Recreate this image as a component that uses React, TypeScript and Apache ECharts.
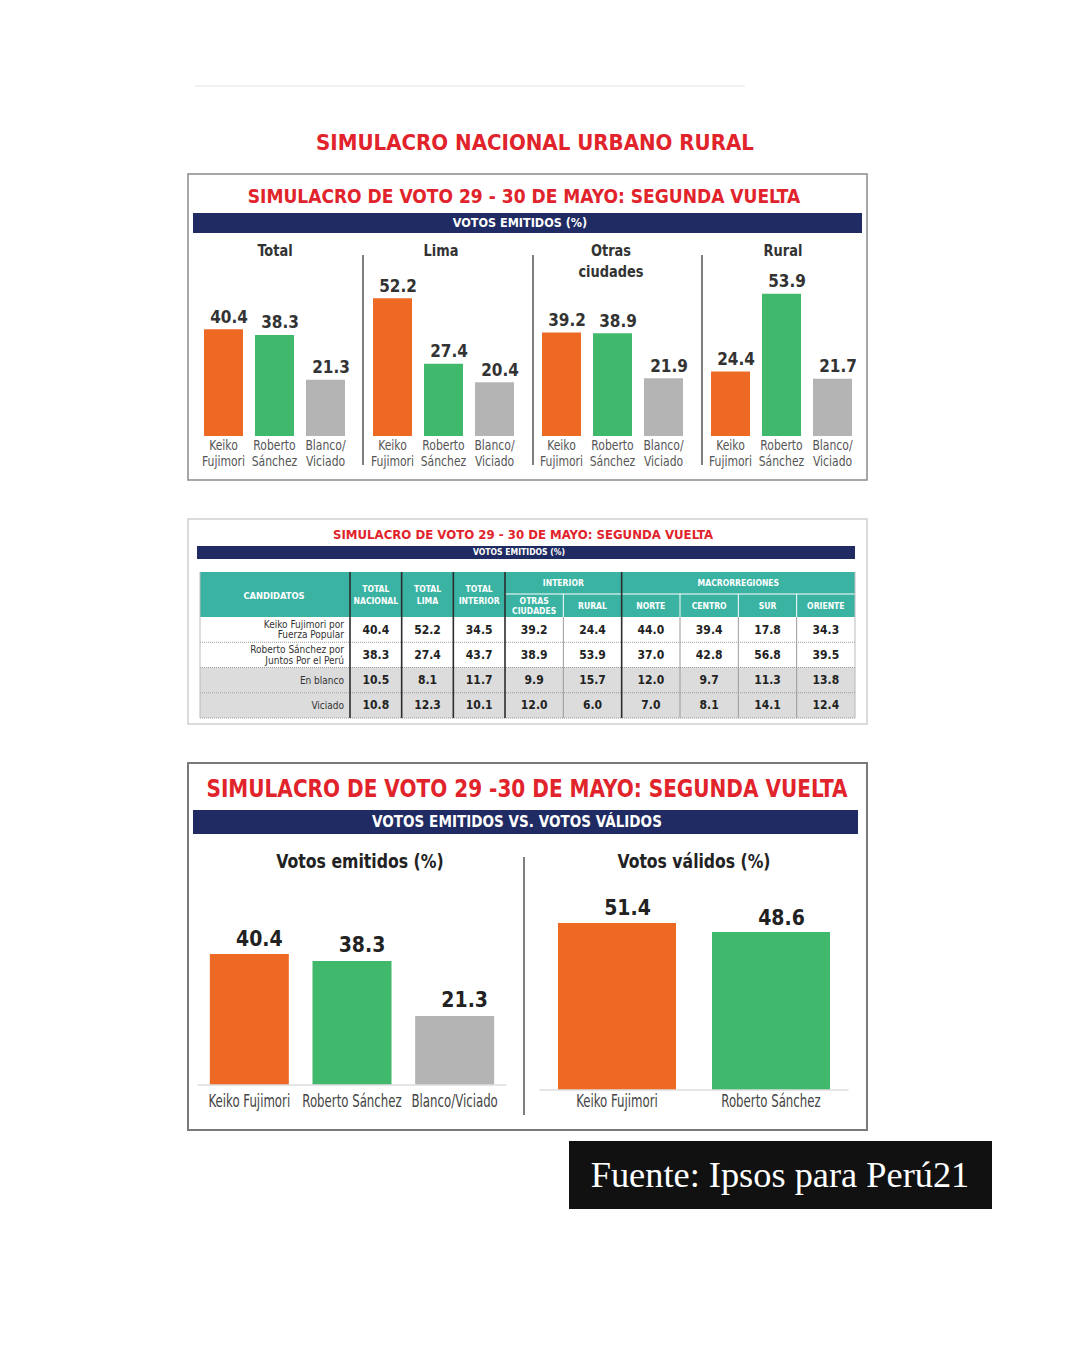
import React, { useEffect, useRef } from 'react';
import * as echarts from 'echarts';

// ---------- DATA ----------
const groupTitles = ['Total', 'Lima', 'Otras\nciudades', 'Rural'];
const candidateLabels = ['Keiko\nFujimori', 'Roberto\nSánchez', 'Blanco/\nViciado'];
const keikoByGroup = [40.4, 52.2, 39.2, 24.4];
const sanchezByGroup = [38.3, 27.4, 38.9, 53.9];
const blancoViciadoByGroup = [21.3, 20.4, 21.9, 21.7];

const tableColumnsA = ['TOTAL\nNACIONAL', 'TOTAL\nLIMA', 'TOTAL\nINTERIOR'];
const tableColumnsB = ['OTRAS\nCIUDADES', 'RURAL', 'NORTE', 'CENTRO', 'SUR', 'ORIENTE'];
const tableRowNames = ['Keiko Fujimori por\nFuerza Popular', 'Roberto Sánchez por\nJuntos Por el Perú', 'En blanco', 'Viciado'];
const tableKeiko = [40.4, 52.2, 34.5, 39.2, 24.4, 44.0, 39.4, 17.8, 34.3];
const tableSanchez = [38.3, 27.4, 43.7, 38.9, 53.9, 37.0, 42.8, 56.8, 39.5];
const tableBlanco = [10.5, 8.1, 11.7, 9.9, 15.7, 12.0, 9.7, 11.3, 13.8];
const tableViciado = [10.8, 12.3, 10.1, 12.0, 6.0, 7.0, 8.1, 14.1, 12.4];

const emitidosCategories = ['Keiko Fujimori', 'Roberto Sánchez', 'Blanco/Viciado'];
const emitidosValues = [40.4, 38.3, 21.3];
const validosCategories = ['Keiko Fujimori', 'Roberto Sánchez'];
const validosValues = [51.4, 48.6];

// ---------- STYLE ----------
const ORANGE = '#ee6a24';
const GREEN = '#40b96d';
const GRAY = '#b4b4b4';
const NAVY = '#1f2b62';
const RED = '#e1232b';
const TEAL = '#3ab3a3';
const COND = "'DejaVu Sans Condensed', 'Liberation Sans Narrow', sans-serif";
const BAR_COLORS = [ORANGE, GREEN, GRAY];

function txt(text: string, x: number, y: number, size: number, color: string, o: any = {}) {
  return {
    type: 'text',
    x,
    y,
    scaleX: o.sx || 1,
    z: o.z || 60,
    style: {
      text,
      fill: color,
      font: `${o.weight || 'bold'} ${size}px ${o.family || COND}`,
      textAlign: o.align || 'center',
      align: o.align || 'center',
      textVerticalAlign: 'middle',
      verticalAlign: 'middle',
      lineHeight: o.lh || size * 1.2,
    },
  };
}
function rect(x: number, y: number, w: number, h: number, fill: string, o: any = {}) {
  return {
    type: 'rect',
    z: o.z ?? 0,
    shape: { x, y, width: w, height: h },
    style: { fill, stroke: o.stroke || null, lineWidth: o.lw || 0 },
  };
}
function line(x1: number, y1: number, x2: number, y2: number, color: string, w: number, o: any = {}) {
  return {
    type: 'line',
    z: o.z ?? 70,
    shape: { x1, y1, x2, y2 },
    style: { stroke: color, lineWidth: w, lineDash: o.dash || null },
  };
}

export default function App() {
  const ref = useRef<HTMLDivElement>(null);
  useEffect(() => {
    if (!ref.current) return;
    const chart = echarts.init(ref.current, null, { renderer: 'svg' });

    const grids: any[] = [];
    const xAxes: any[] = [];
    const yAxes: any[] = [];
    const series: any[] = [];
    const graphic: any[] = [];
    const heatIdx: number[] = [];
    const catLabelJobs: { axis: number; cats: string[]; y: number; size: number; sx: number; color: string; lh: number }[] = [];

    graphic.push(line(195, 86, 745, 86, '#f2f2f2', 2, { z: 1 }));
    graphic.push(txt('SIMULACRO NACIONAL URBANO RURAL', 535, 143, 21, RED, { sx: 1.05 }));

    // ---------- PANEL 1 ----------
    graphic.push(rect(188, 174, 679, 306, '#fff', { stroke: '#8a8a8a', lw: 1.5, z: 1 }));
    graphic.push(txt('SIMULACRO DE VOTO 29 - 30 DE MAYO: SEGUNDA VUELTA', 524, 196, 19, RED, { sx: 1.0 }));
    graphic.push(rect(193, 213, 669, 20, NAVY, { z: 2 }));
    graphic.push(txt('VOTOS EMITIDOS (%)', 520, 223.5, 12, '#fff', { sx: 1.04 }));
    const groupLefts = [198, 367, 536, 705];
    const groupTitleX = [275, 441, 611, 783];
    [363, 533, 702].forEach((x) => graphic.push(line(x, 255, x, 465, '#555', 1.5)));
    groupTitles.forEach((t, i) => {
      const twoLines = t.includes('\n');
      graphic.push(txt(t, groupTitleX[i], twoLines ? 261.5 : 251, 16, '#333', { lh: 21, sx: 0.9 }));
      grids.push({ left: groupLefts[i], width: 153, top: 436 - 158.4, height: 158.4 });
      xAxes.push({
        type: 'category', gridIndex: i, data: candidateLabels,
        axisLine: { show: false }, axisTick: { show: false }, axisLabel: { show: false },
      });
      catLabelJobs.push({ axis: i, cats: candidateLabels, y: 453, size: 14, sx: 0.86, color: '#555', lh: 16 });
      yAxes.push({ type: 'value', gridIndex: i, min: 0, max: 60, show: false, splitLine: { show: false } });
      const vals = [keikoByGroup[i], sanchezByGroup[i], blancoViciadoByGroup[i]];
      series.push({
        type: 'bar', xAxisIndex: i, yAxisIndex: i, barWidth: 39,
        data: vals.map((v, k) => ({ value: v, itemStyle: { color: BAR_COLORS[k] } })),
        label: {
          show: true, position: 'top', distance: 4, offset: [5.5, 0],
          fontFamily: COND, fontWeight: 'bold', fontSize: 17, color: '#333',
          formatter: (p: any) => p.value.toFixed(1),
        },
      });
    });

    // ---------- PANEL 2 (table) ----------
    graphic.push(rect(188, 519, 679, 205, '#fff', { stroke: '#cfcfcf', lw: 1.5, z: 1 }));
    graphic.push(txt('SIMULACRO DE VOTO 29 - 30 DE MAYO: SEGUNDA VUELTA', 523, 534.5, 12.5, RED, { sx: 1.047 }));
    graphic.push(rect(197, 546, 658, 13, NAVY, { z: 2 }));
    graphic.push(txt('VOTOS EMITIDOS (%)', 519, 552.5, 8, '#fff', { sx: 1.07 }));

    const tTop = 617, tH = 101, rowH = tH / 4;
    const aLeft = 350, aW = 155, colA = aW / 3;
    const bLeft = 505, bW = 350, colB = bW / 6;
    graphic.push(rect(200, 572, 655, tTop - 572, TEAL, { z: 2 }));
    graphic.push(txt('CANDIDATOS', 274, 595, 9.5, '#fff', { sx: 0.98 }));
    tableColumnsA.forEach((c, k) =>
      graphic.push(txt(c, aLeft + colA * (k + 0.5), 595, 9.5, '#fff', { lh: 12.5, sx: 0.9 })));
    graphic.push(txt('INTERIOR', bLeft + colB, 582.5, 9.5, '#fff', { sx: 0.9 }));
    graphic.push(txt('MACRORREGIONES', bLeft + colB * 4, 582.5, 9.5, '#fff', { sx: 0.9 }));
    tableColumnsB.forEach((c, k) =>
      graphic.push(txt(c, bLeft + colB * (k + 0.5), 606, 9.5, '#fff', { lh: 10.5, sx: 0.9 })));
    graphic.push(line(bLeft, 594, 855, 594, '#ffffff', 1));
    tableRowNames.forEach((_, r) =>
      graphic.push(rect(200, tTop + rowH * r, 150, rowH, r < 2 ? '#ffffff' : '#dcdcdc', { z: 2 })));
    for (let r = 1; r <= 4; r++)
      graphic.push(line(200, tTop + rowH * r, 855, tTop + rowH * r, '#9a9a9a', 1, { dash: [1, 1] }));
    [aLeft, aLeft + colA, aLeft + 2 * colA, bLeft, bLeft + 2 * colB].forEach((x) =>
      graphic.push(line(x, 572, x, tTop + tH, '#2d2d2d', 1.6)));
    [bLeft + colB, bLeft + 3 * colB, bLeft + 4 * colB, bLeft + 5 * colB].forEach((x) => {
      graphic.push(line(x, 594, x, tTop, '#ffffff', 1));
      graphic.push(line(x, tTop, x, tTop + tH, '#9a9a9a', 1));
    });
    graphic.push(line(200, 572, 200, tTop + tH, '#bbbbbb', 1));
    graphic.push(line(855, 572, 855, tTop + tH, '#bbbbbb', 1));

    const tableRows = [tableKeiko, tableSanchez, tableBlanco, tableViciado];
    const tableLabel = {
      show: true, fontFamily: COND, fontWeight: 'bold', fontSize: 12, color: '#222',
      formatter: (p: any) => p.value[2].toFixed(1),
    };
    const gA = grids.length;
    grids.push({ left: aLeft, top: tTop, width: aW, height: tH });
    xAxes.push({ type: 'category', gridIndex: gA, data: tableColumnsA, show: false });
    yAxes.push({
      type: 'category', gridIndex: gA, data: tableRowNames, inverse: true,
      axisLine: { show: false }, axisTick: { show: false },
      axisLabel: { margin: 6, fontFamily: COND, fontSize: 10, lineHeight: 10.5, color: '#333', align: 'right' },
      z: 80,
    });
    heatIdx.push(series.length);
    series.push({
      type: 'heatmap', xAxisIndex: gA, yAxisIndex: gA,
      data: tableRows.flatMap((row, r) => row.slice(0, 3).map((v, c) => [c, r, v, r < 2 ? 0 : 1])),
      label: tableLabel, emphasis: { disabled: true },
    });
    const gB = grids.length;
    grids.push({ left: bLeft, top: tTop, width: bW, height: tH });
    xAxes.push({ type: 'category', gridIndex: gB, data: tableColumnsB, show: false });
    yAxes.push({ type: 'category', gridIndex: gB, data: tableRowNames, inverse: true, show: false });
    heatIdx.push(series.length);
    series.push({
      type: 'heatmap', xAxisIndex: gB, yAxisIndex: gB,
      data: tableRows.flatMap((row, r) => row.slice(3).map((v, c) => [c, r, v, r < 2 ? 0 : 1])),
      label: tableLabel, emphasis: { disabled: true },
    });

    // ---------- PANEL 3 ----------
    graphic.push(rect(188, 763, 679, 367, '#fff', { stroke: '#7a7a7a', lw: 2, z: 1 }));
    graphic.push(txt('SIMULACRO DE VOTO 29 -30 DE MAYO: SEGUNDA VUELTA', 527, 789, 25, RED, { sx: 0.892 }));
    graphic.push(rect(193, 810, 665, 24, NAVY, { z: 2 }));
    graphic.push(txt('VOTOS EMITIDOS VS. VOTOS VÁLIDOS', 517, 822, 15.5, '#fff', { sx: 0.974 }));
    graphic.push(txt('Votos emitidos (%)', 360, 861, 20, '#222', { sx: 0.874 }));
    graphic.push(txt('Votos válidos (%)', 694, 861, 20, '#222', { sx: 0.87 }));
    graphic.push(line(524, 857, 524, 1115, '#555', 1.5));

    const gL = grids.length;
    grids.push({ left: 198, width: 308, top: 1085 - 194.4, height: 194.4 });
    xAxes.push({
      type: 'category', gridIndex: gL, data: emitidosCategories, z: 10,
      axisLine: { show: true, lineStyle: { color: '#dddddd', width: 1.5 } }, axisTick: { show: false },
      axisLabel: { show: false },
    });
    catLabelJobs.push({ axis: gL, cats: emitidosCategories, y: 1101, size: 17, sx: 0.77, color: '#444', lh: 20 });
    yAxes.push({ type: 'value', gridIndex: gL, min: 0, max: 60, show: false, splitLine: { show: false } });
    series.push({
      type: 'bar', xAxisIndex: gL, yAxisIndex: gL, barWidth: 79,
      data: emitidosValues.map((v, k) => ({ value: v, itemStyle: { color: BAR_COLORS[k] } })),
      label: {
        show: true, position: 'top', distance: 5, offset: [10, 0],
        fontFamily: COND, fontWeight: 'bold', fontSize: 21, color: '#222',
        formatter: (p: any) => p.value.toFixed(1),
      },
    });
    const gR = grids.length;
    grids.push({ left: 540, width: 308, top: 1090 - 195, height: 195 });
    xAxes.push({
      type: 'category', gridIndex: gR, data: validosCategories, z: 10,
      axisLine: { show: true, lineStyle: { color: '#dddddd', width: 1.5 } }, axisTick: { show: false },
      axisLabel: { show: false },
    });
    catLabelJobs.push({ axis: gR, cats: validosCategories, y: 1101, size: 17, sx: 0.77, color: '#444', lh: 20 });
    yAxes.push({ type: 'value', gridIndex: gR, min: 0, max: 60, show: false, splitLine: { show: false } });
    series.push({
      type: 'bar', xAxisIndex: gR, yAxisIndex: gR, barWidth: 118,
      data: validosValues.map((v, k) => ({ value: v, itemStyle: { color: BAR_COLORS[k] } })),
      label: {
        show: true, position: 'top', distance: 4, offset: [10.5, 0],
        fontFamily: COND, fontWeight: 'bold', fontSize: 21, color: '#222',
        formatter: (p: any) => p.value.toFixed(1),
      },
    });

    // ---------- FOOTER ----------
    graphic.push(rect(569, 1141, 423, 68, '#111111', { z: 2 }));
    graphic.push(txt('Fuente: Ipsos para Perú21', 780, 1175, 36, '#ffffff', {
      weight: 'normal', family: "'Liberation Serif', 'DejaVu Serif', serif", sx: 1.01,
    }));

    chart.setOption({
      animation: false,
      backgroundColor: '#ffffff',
      grid: grids,
      xAxis: xAxes,
      yAxis: yAxes,
      visualMap: {
        type: 'piecewise', show: false, dimension: 3, seriesIndex: heatIdx,
        pieces: [{ value: 0, color: '#ffffff' }, { value: 1, color: '#dcdcdc' }],
      },
      series,
    });

    // category labels positioned through the axes' own scales
    catLabelJobs.forEach((job) => {
      job.cats.forEach((c) => {
        const px = chart.convertToPixel({ xAxisIndex: job.axis } as any, c) as unknown as number;
        graphic.push(txt(c, px, job.y, job.size, job.color, { weight: 'normal', sx: job.sx, lh: job.lh }));
      });
    });
    chart.setOption({ graphic: { elements: graphic } });

    return () => chart.dispose();
  }, []);
  return <div ref={ref} style={{ position: 'absolute', left: 0, top: 0, width: 1080, height: 1350 }} />;
}
